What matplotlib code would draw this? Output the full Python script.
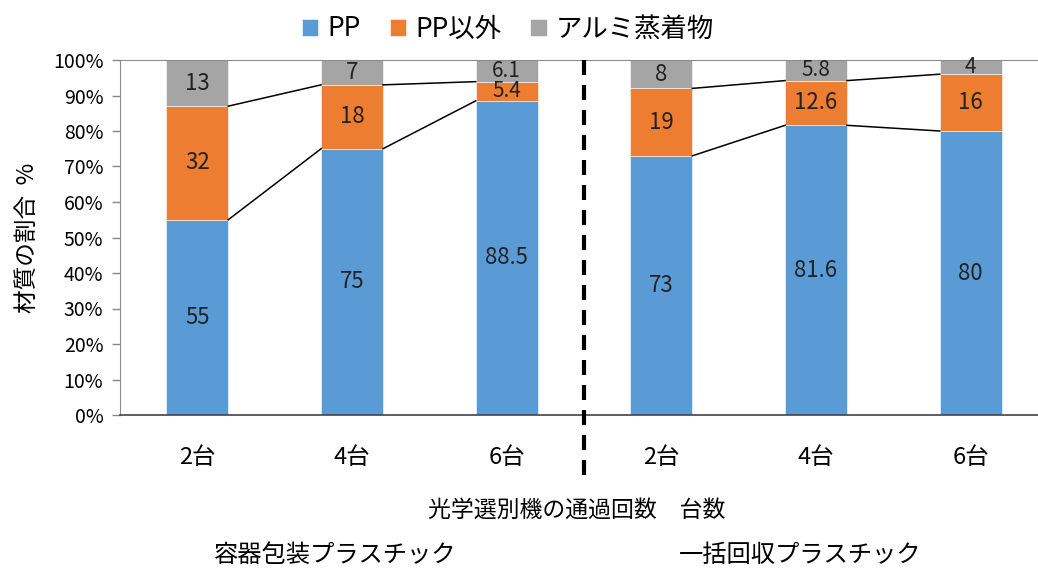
import matplotlib
matplotlib.use("Agg")
import matplotlib.pyplot as plt
from matplotlib.ticker import PercentFormatter

plt.rcParams['font.family'] = ['Noto Sans CJK JP', 'DejaVu Sans']

# data
categories = ["2台", "4台", "6台", "2台", "4台", "6台"]
groups = ["容器包装プラスチック", "一括回収プラスチック"]
pp = [55, 75, 88.5, 73, 81.6, 80]
pp_other = [32, 18, 5.4, 19, 12.6, 16]
alumi = [13, 7, 6.1, 8, 5.8, 4]
series_names = ["PP", "PP以外", "アルミ蒸着物"]
colors = ["#5B9BD5", "#ED7D31", "#A5A5A5"]

fig = plt.figure(figsize=(10.38, 5.72), dpi=100)
ax = fig.add_axes([120 / 1038, 1 - 415 / 572, 928 / 1038, 355 / 572])

x = list(range(len(categories)))
bar_w = 0.4
bottom = [0] * len(x)
tops = []
for vals, name, col in zip([pp, pp_other, alumi], series_names, colors):
    ax.bar(x, vals, bar_w, bottom=bottom, color=col, label=name,
           edgecolor="white", linewidth=0.4, zorder=2)
    for xi, b, v in zip(x, bottom, vals):
        # thin segments get a slightly smaller label so neighbours don't collide
        fs = 15 if v < 6.5 else 16
        ax.text(xi, b + v / 2, f"{v:g}", ha="center", va="center",
                fontsize=fs, color="#222222", zorder=4)
    bottom = [b + v for b, v in zip(bottom, vals)]
    tops.append(list(bottom))

# series lines between neighbouring bars inside each group
for level in tops[:2]:
    for start in (0, 3):
        for i in range(start, start + 2):
            ax.plot([i + bar_w / 2, i + 1 - bar_w / 2], [level[i], level[i + 1]],
                    color="black", linewidth=1.1, zorder=3)

# dashed divider between the two groups
ax.plot([2.5, 2.5], [100, -18.5], color="black", linewidth=3,
        linestyle=(0, (3.6, 2.4)), clip_on=False, zorder=5)

ax.set_xlim(-0.5, 5.5)
ax.set_ylim(0, 100)
ax.set_yticks(range(0, 101, 10))
ax.yaxis.set_major_formatter(PercentFormatter(decimals=0))
ax.set_xticks(x)
ax.set_xticklabels(categories)
ax.tick_params(axis="x", length=0, pad=22, labelsize=17)
ax.tick_params(axis="y", length=6, width=1, color="#888888", labelsize=14, pad=6)
for side in ["left", "top", "right"]:
    ax.spines[side].set_color("#8c8c8c")
ax.spines["bottom"].set_color("#444444")
ax.spines["bottom"].set_linewidth(1.2)

ax.set_ylabel("材質の割合  %", fontsize=17, labelpad=10)

fig.text(577 / 1038, 1 - 510 / 572, "光学選別機の通過回数　台数", ha="center", va="center", fontsize=16.5)
fig.text(335 / 1038, 1 - 555 / 572, groups[0], ha="center", va="center", fontsize=17.5)
fig.text(800 / 1038, 1 - 555 / 572, groups[1], ha="center", va="center", fontsize=17.5)

fig.legend(loc="center", bbox_to_anchor=(508 / 1038, 1 - 29 / 572), ncol=3,
           frameon=False, fontsize=19, handlelength=0.62, handleheight=0.62,
           handletextpad=0.35, columnspacing=1.1)

fig.savefig("out.png", dpi=100)
